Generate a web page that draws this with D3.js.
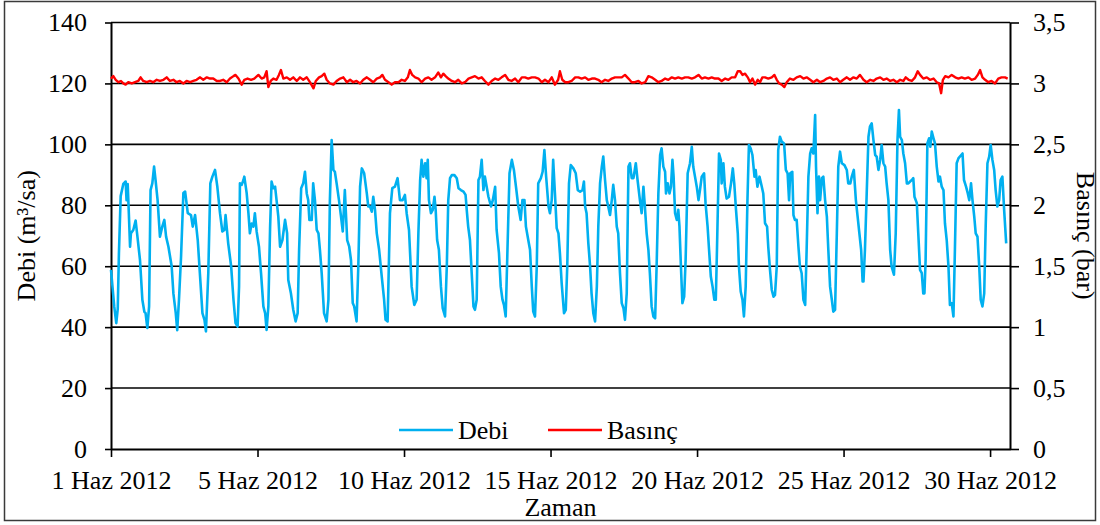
<!DOCTYPE html>
<html><head><meta charset="utf-8">
<script src="https://cdn.jsdelivr.net/npm/d3@7"></script>
<style>
body{margin:0;background:#fff}
text{font-family:"Liberation Serif","Times New Roman",serif;fill:#000}
</style>
</head><body><svg id="c" width="1100" height="525"></svg>
<script>
// time in days from 1 Haz 2012 00:00, Debi in m3/sa
const debi = [
[0.00,58.8],[0.11,46.8],[0.18,41.3],[0.23,46],[0.27,64],[0.33,83],[0.42,87],[0.50,87.8],[0.53,81.7],[0.57,87],[0.61,77],[0.65,66.4],[0.68,70.8],[0.76,71.9],[0.84,75],[0.89,70.8],[0.99,62],
[1.07,49],[1.14,45],[1.18,44.6],[1.24,39.7],[1.30,46.8],[1.35,85],[1.41,87.2],[1.47,92.7],[1.52,88.3],[1.59,81.7],[1.67,69.7],[1.75,73],[1.82,75.2],[1.88,69.7],[1.96,66.4],
[2.07,60],[2.13,51],[2.21,44.6],[2.26,39],[2.32,49],[2.39,63],[2.47,84],[2.53,84.5],[2.62,77.4],[2.73,76.8],[2.79,73],[2.87,76.8],[2.96,68.6],
[3.04,56.6],[3.12,44.6],[3.19,42.4],[3.24,38.6],[3.32,57.7],[3.39,87.2],[3.46,89.4],[3.55,91.6],[3.63,86],[3.72,77.4],[3.80,71.4],[3.87,71.9],[3.91,76.8],
[4.00,67.5],[4.10,60],[4.18,49],[4.25,41.3],[4.32,40.2],[4.37,53.3],[4.40,87.2],[4.46,86.7],[4.52,88.3],[4.55,89.4],[4.63,84],[4.69,77.4],[4.74,70.8],[4.80,74],[4.86,73],[4.91,77.4],[4.97,71.4],
[5.05,66.4],[5.12,57.7],[5.20,46.8],[5.26,44.6],[5.31,39.1],[5.37,46.8],[5.43,73],[5.48,87.8],[5.54,85.6],[5.60,86.1],[5.65,81.7],[5.71,76.3],[5.77,66.4],[5.85,68.6],[5.94,75.2],
[6.01,70.8],[6.05,55.5],[6.14,51.1],[6.22,45.7],[6.30,41.9],[6.37,44.6],[6.42,65.4],[6.49,85.6],[6.56,87.2],[6.62,91],[6.68,83.9],[6.73,81.7],[6.77,75.2],[6.85,75.2],[6.90,87.2],[6.96,81.7],
[7.02,71.9],[7.08,70.8],[7.13,65.4],[7.19,57.7],[7.27,44.6],[7.36,41.9],[7.42,49],[7.47,81.7],[7.53,101.4],[7.59,91.6],[7.64,91],[7.70,87.2],[7.78,81.7],[7.85,76.3],[7.91,71.4],[7.98,85],
[8.06,68.6],[8.13,66.4],[8.19,62],[8.25,47.9],[8.30,46.8],[8.38,41.9],[8.44,60],[8.50,86.1],[8.56,92.1],[8.64,90.5],[8.73,83.9],[8.78,79.6],[8.84,79.6],[8.90,77.9],[8.95,82.8],
[9.01,78.5],[9.07,70.8],[9.15,65.4],[9.24,56.6],[9.32,49],[9.37,42.4],[9.44,41.9],[9.52,77.4],[9.60,85.6],[9.69,86.1],[9.78,88.9],[9.86,81.7],[9.95,81.7],
[10.03,83.4],[10.09,77.4],[10.17,71.9],[10.26,53.3],[10.35,47.3],[10.43,49],[10.49,70.8],[10.55,88.3],[10.60,94.9],[10.66,89.4],[10.72,93.8],[10.77,88.9],[10.81,94.9],[10.85,81.7],[10.92,77.4],[10.98,78.5],
[11.04,82.8],[11.08,78.5],[11.13,68.6],[11.19,65.4],[11.26,53.3],[11.32,46.2],[11.40,43.5],[11.46,59.9],[11.51,81.7],[11.57,88.9],[11.63,89.9],[11.72,89.9],[11.80,88.9],[11.86,85.6],[11.94,85],
[12.03,84.5],[12.10,83.4],[12.14,78.5],[12.19,73],[12.25,68.6],[12.31,57.7],[12.37,46.8],[12.42,45.7],[12.48,49],[12.54,88.3],[12.59,89.4],[12.65,94.9],[12.71,85],[12.76,89.4],[12.82,86.1],[12.88,82.8],[12.97,79.6],
[13.03,81.7],[13.11,86.1],[13.16,71.9],[13.24,64.3],[13.30,53.3],[13.36,49],[13.41,47.3],[13.47,43.5],[13.53,65.4],[13.60,90.5],[13.68,94.9],[13.75,91.6],[13.82,86.1],[13.90,79.6],[13.98,75.2],
[14.04,81.7],[14.11,81.7],[14.16,73],[14.24,68.6],[14.30,65.4],[14.36,53.3],[14.41,45.1],[14.47,43.5],[14.53,59.9],[14.58,87.2],[14.67,88.9],[14.73,91],[14.79,98.1],[14.85,89.4],[14.93,79.6],[14.98,77.4],
[15.04,81.7],[15.09,94.9],[15.15,83.9],[15.21,72.5],[15.27,70.8],[15.32,64.3],[15.38,54.4],[15.46,44.6],[15.52,45.7],[15.57,59.9],[15.63,87.2],[15.69,93.2],[15.78,92.1],[15.86,90.5],[15.93,85],
[16.01,84.5],[16.09,85],[16.14,87.8],[16.18,79.6],[16.23,77.4],[16.29,67.5],[16.35,59.9],[16.40,51.1],[16.46,44.6],[16.52,41.9],[16.58,53.3],[16.63,73],[16.69,87.2],[16.75,92.7],[16.80,96],[16.86,88.3],[16.92,81.7],[16.97,79.6],
[17.03,76.8],[17.09,81.7],[17.14,86.7],[17.20,81.7],[17.26,73],[17.31,70.8],[17.37,57.7],[17.43,47.9],[17.49,46.2],[17.54,42.4],[17.60,51.1],[17.66,92.7],[17.71,93.8],[17.77,88.9],[17.83,88.9],[17.91,93.8],[17.97,88.3],
[18.05,81.7],[18.11,77.4],[18.17,86.1],[18.22,79.6],[18.28,70.8],[18.34,65.4],[18.39,57.7],[18.45,46.8],[18.51,43.5],[18.57,42.9],[18.62,59.9],[18.68,83.9],[18.74,96.5],[18.79,98.7],[18.85,92.7],[18.91,91],[18.94,83.9],
[19.00,87.2],[19.06,83.9],[19.11,86.1],[19.16,94.9],[19.20,89.4],[19.25,77.4],[19.31,75.2],[19.36,78.5],[19.40,73],[19.45,59.9],[19.50,47.9],[19.56,50],[19.61,62],[19.68,90.5],[19.76,93.8],[19.82,99.2],[19.87,92.7],[19.93,89.4],[19.99,86.1],
[20.05,81.7],[20.10,85],[20.16,89.4],[20.24,90.5],[20.29,80.7],[20.36,73],[20.41,65.4],[20.47,56.6],[20.53,53.3],[20.59,49],[20.64,49],[20.68,65.4],[20.75,97],[20.81,94.9],[20.84,87.2],[20.90,93.8],[20.95,86.1],
[21.01,82.2],[21.09,82.8],[21.16,87.2],[21.22,92.1],[21.27,87.2],[21.33,78.5],[21.39,70.8],[21.43,59.9],[21.49,51.7],[21.55,49],[21.60,43.5],[21.66,53.3],[21.72,81.7],[21.77,99.8],[21.83,98.7],[21.89,96.5],[21.96,89.4],
[22.00,91.6],[22.06,86.1],[22.13,89.4],[22.21,86.1],[22.26,83.9],[22.32,74.1],[22.39,73],[22.43,66.4],[22.49,58.8],[22.55,52.2],[22.61,50],[22.66,50.6],[22.72,59.9],[22.77,98.1],[22.83,102.5],[22.89,100.9],[22.97,100.3],
[23.03,91.6],[23.09,90.5],[23.14,81.7],[23.18,90.5],[23.25,91],[23.29,76.8],[23.34,75.2],[23.40,75.2],[23.46,66.4],[23.51,59.9],[23.57,57.7],[23.63,49],[23.69,47.3],[23.74,65.4],[23.80,89.4],[23.86,97],[23.91,98.7],[23.97,97],
[24.03,109.6],[24.06,92.7],[24.11,77.4],[24.16,89.4],[24.20,81.7],[24.26,88.9],[24.31,89.4],[24.37,81.7],[24.43,76.3],[24.48,65.4],[24.54,53.3],[24.60,49],[24.65,45.1],[24.71,45.7],[24.77,70.8],[24.82,92.7],[24.88,97.6],[24.94,93.8],
[25.03,93.2],[25.11,91.6],[25.16,87.2],[25.23,87.2],[25.28,89.4],[25.35,91.6],[25.42,81.7],[25.48,76.3],[25.54,70.8],[25.60,65.4],[25.65,55],[25.68,55],[25.73,65.4],[25.79,83.9],[25.85,102.5],[25.90,105.8],[25.96,106.9],
[26.02,101.4],[26.08,96.5],[26.13,96],[26.19,91.6],[26.25,94.9],[26.30,99.8],[26.36,93.8],[26.42,92.7],[26.47,87.2],[26.53,81.7],[26.59,65.4],[26.64,59.9],[26.72,57.2],[26.78,70.8],[26.84,101.4],[26.89,111.3],[26.93,102.5],[26.99,101.4],
[27.04,97],[27.10,93.8],[27.16,87.2],[27.21,87.2],[27.27,87.8],[27.33,88.3],[27.38,88.9],[27.42,82.8],[27.50,80.7],[27.55,70.8],[27.61,58.8],[27.67,57.7],[27.72,51.1],[27.76,51.1],[27.80,62],[27.86,100.3],[27.92,102],[27.96,99.2],
[28.01,104.2],[28.07,102],[28.12,100.3],[28.18,92.7],[28.24,87.8],[28.29,89.4],[28.35,86.1],[28.41,85],[28.46,74.1],[28.52,68.6],[28.58,59.9],[28.63,47.3],[28.69,47.9],[28.75,43.5],[28.80,65.4],[28.86,93.8],[28.92,95.4],[28.97,96],
[29.06,97],[29.11,88.3],[29.18,86.1],[29.24,83.9],[29.29,81.7],[29.35,87.2],[29.40,81.7],[29.46,76.3],[29.51,70.8],[29.57,69.7],[29.63,59.9],[29.68,49],[29.74,46.8],[29.80,51.1],[29.85,73],[29.91,93.8],[29.97,96],
[30.02,99.8],[30.08,94.9],[30.14,91.6],[30.19,85],[30.25,79.6],[30.31,81.7],[30.36,88.3],[30.42,89.4],[30.48,78.5],[30.55,67.5]
];
// time in days, Basınç in bar
const basinc = [
[0.00,3.04],[0.08,3.06],[0.16,3.03],[0.25,3.01],[0.34,3.02],[0.42,3.00],[0.50,2.99],[0.59,3.01],[0.71,3.00],[0.82,3.01],[0.93,3.02],[1.01,3.05],[1.10,3.02],[1.22,3.01],[1.33,3.02],[1.44,3.01],[1.56,3.03],[1.67,3.02],[1.79,3.03],[1.90,3.05],
[2.01,3.02],[2.13,3.03],[2.24,3.01],[2.35,3.02],[2.47,3.00],[2.58,3.02],[2.70,3.01],[2.81,3.02],[2.92,3.03],[3.04,3.05],[3.15,3.03],[3.27,3.05],[3.38,3.04],[3.49,3.04],[3.61,3.02],[3.72,3.02],[3.83,3.03],[3.95,3.01],
[4.06,3.04],[4.18,3.06],[4.25,3.07],[4.35,3.04],[4.46,2.99],[4.55,3.03],[4.66,3.04],[4.78,3.03],[4.89,3.04],[5.03,3.07],[5.14,3.04],[5.23,3.05],[5.31,3.10],[5.37,2.97],[5.45,3.02],[5.54,3.04],[5.65,3.03],[5.73,3.07],[5.80,3.11],[5.88,3.04],
[6.00,3.05],[6.11,3.03],[6.22,3.05],[6.34,3.02],[6.45,3.05],[6.56,3.03],[6.68,3.05],[6.79,3.01],[6.91,2.96],[6.99,3.02],[7.10,3.05],[7.19,3.06],[7.28,3.08],[7.36,3.03],[7.47,3.00],[7.59,2.99],[7.70,3.02],[7.82,3.04],[7.93,3.05],
[8.05,3.01],[8.16,3.03],[8.27,3.01],[8.38,3.02],[8.50,3.00],[8.61,3.03],[8.73,3.05],[8.84,3.03],[8.95,3.01],[9.07,3.04],[9.18,3.05],[9.26,3.07],[9.35,3.03],[9.47,3.01],[9.58,2.99],[9.69,3.01],[9.81,3.01],[9.92,3.03],
[10.03,3.02],[10.13,3.05],[10.20,3.11],[10.28,3.07],[10.38,3.05],[10.49,3.04],[10.60,3.01],[10.72,3.04],[10.83,3.05],[10.94,3.03],[11.06,3.05],[11.17,3.09],[11.26,3.05],[11.34,3.08],[11.42,3.06],[11.51,3.04],[11.63,3.02],[11.74,3.01],[11.85,3.03],[11.97,3.00],
[12.08,3.01],[12.20,3.04],[12.31,3.05],[12.42,3.06],[12.54,3.04],[12.65,3.05],[12.76,3.02],[12.88,2.99],[12.99,3.02],[13.11,3.04],[13.22,3.03],[13.33,3.05],[13.45,3.07],[13.56,3.03],[13.67,3.02],[13.79,3.04],[13.90,3.01],
[14.02,3.05],[14.13,3.05],[14.24,3.04],[14.36,3.05],[14.47,3.05],[14.59,3.04],[14.70,3.01],[14.81,3.03],[14.93,3.01],[15.04,3.05],[15.15,2.99],[15.26,3.03],[15.32,3.10],[15.40,3.03],[15.50,3.01],[15.61,3.01],[15.72,3.02],[15.84,3.05],[15.95,3.05],
[16.06,3.04],[16.18,3.05],[16.29,3.03],[16.41,3.04],[16.52,3.04],[16.63,3.03],[16.74,3.01],[16.86,3.03],[16.97,3.02],[17.09,3.04],[17.20,3.05],[17.32,3.05],[17.43,3.05],[17.54,3.07],[17.66,3.04],[17.77,3.01],[17.88,3.01],
[18.00,3.02],[18.11,3.00],[18.23,3.01],[18.34,3.06],[18.45,3.05],[18.57,3.03],[18.68,3.01],[18.79,3.02],[18.91,3.04],[19.02,3.03],[19.14,3.05],[19.25,3.04],[19.36,3.05],[19.48,3.04],[19.59,3.05],[19.70,3.05],[19.82,3.04],[19.93,3.05],
[20.05,3.07],[20.16,3.04],[20.27,3.05],[20.39,3.04],[20.50,3.05],[20.61,3.04],[20.73,3.04],[20.84,3.02],[20.96,3.04],[21.07,3.03],[21.18,3.05],[21.30,3.05],[21.39,3.10],[21.47,3.10],[21.55,3.07],[21.64,3.08],[21.73,3.05],[21.81,3.01],[21.89,3.04],[21.98,2.99],
[22.07,3.03],[22.15,3.01],[22.23,3.05],[22.32,3.05],[22.43,3.04],[22.55,3.05],[22.64,3.07],[22.72,3.03],[22.80,3.00],[22.89,2.99],[22.98,2.97],[23.06,3.01],[23.17,3.04],[23.29,3.03],[23.40,3.05],[23.52,3.06],[23.63,3.04],[23.74,3.05],[23.86,3.03],[23.97,3.01],
[24.09,3.03],[24.20,3.01],[24.31,3.02],[24.43,3.04],[24.54,3.05],[24.65,3.03],[24.77,3.04],[24.88,3.01],[24.99,3.03],[25.11,3.05],[25.22,3.03],[25.34,3.05],[25.45,3.04],[25.56,3.07],[25.68,3.03],[25.79,3.01],[25.91,3.03],
[26.02,3.02],[26.13,3.04],[26.25,3.05],[26.36,3.03],[26.47,3.04],[26.59,3.02],[26.70,3.03],[26.82,3.01],[26.93,3.03],[27.04,3.02],[27.12,3.05],[27.22,3.03],[27.33,3.02],[27.44,3.05],[27.53,3.10],[27.61,3.07],[27.72,3.04],[27.84,3.05],[27.95,3.03],
[28.07,3.04],[28.18,3.01],[28.26,3.00],[28.33,2.92],[28.39,3.03],[28.47,3.06],[28.58,3.05],[28.69,3.07],[28.81,3.05],[28.92,3.04],[29.03,3.05],[29.14,3.04],[29.26,3.05],[29.37,3.03],[29.49,3.04],[29.58,3.07],[29.66,3.11],[29.74,3.05],[29.83,3.03],[29.94,3.01],
[30.05,3.02],[30.17,3.00],[30.28,3.04],[30.39,3.05],[30.51,3.05],[30.60,3.04]
];
const leftTicks = [0,20,40,60,80,100,120,140];
const rightTicks = [0,0.5,1,1.5,2,2.5,3,3.5];
const xTickDays = [0,5,10,15,20,25,30];
const xTickLabels = ["1 Haz 2012","5 Haz 2012","10 Haz 2012","15 Haz 2012","20 Haz 2012","25 Haz 2012","30 Haz 2012"];
const xDomain = [0,30.68];
const seriesNames = ["Debi","Basınç"];
const seriesColors = ["#00B0F0","#FF0000"];
const leftTitle = "Debi (m³/sa)";
const rightTitle = "Basınç (bar)";
const xTitle = "Zaman";

const svg = d3.select("#c");
const L=111, R=1010, T=22.5, B=449, FS=26;
const x = d3.scaleLinear().domain(xDomain).range([L,R]);
const yL = d3.scaleLinear().domain([0,140]).range([B,T]);
const yR = d3.scaleLinear().domain([0,3.5]).range([B,T]);

svg.append("rect").attr("x",4.5).attr("y",1.5).attr("width",1091).attr("height",519)
  .attr("fill","none").attr("stroke","#3a3a3a").attr("stroke-width",1.5);

// gridlines
svg.append("g").selectAll("line").data(leftTicks.filter(d=>d>0)).join("line")
  .attr("x1",L).attr("x2",R).attr("y1",d=>yL(d)).attr("y2",d=>yL(d))
  .attr("stroke","#000").attr("stroke-width",1.6);

function styleAxis(g){
  g.select(".domain").attr("stroke","#000").attr("stroke-width",2);
  g.selectAll(".tick line").attr("stroke","#000").attr("stroke-width",1.6);
  g.selectAll("text").attr("font-size",FS).attr("font-family",'"Liberation Serif","Times New Roman",serif').attr("fill","#000");
}
const gl = svg.append("g").attr("transform",`translate(${L},0)`)
  .call(d3.axisLeft(yL).tickValues(leftTicks).tickSizeInner(6).tickSizeOuter(0).tickPadding(18).tickFormat(d3.format("d")));
styleAxis(gl);
const gr = svg.append("g").attr("transform",`translate(${R},0)`)
  .call(d3.axisRight(yR).tickValues(rightTicks).tickSizeInner(9).tickSizeOuter(0).tickPadding(14).tickFormat(d=>String(d).replace(".",",")));
styleAxis(gr);
const gb = svg.append("g").attr("transform",`translate(0,${B})`)
  .call(d3.axisBottom(x).tickValues(xTickDays).tickSizeInner(8).tickSizeOuter(0).tickPadding(14).tickFormat((d,i)=>xTickLabels[i]));
styleAxis(gb);

// lines
const lineL = d3.line().x(d=>x(d[0])).y(d=>yL(d[1]));
const lineR = d3.line().x(d=>x(d[0])).y(d=>yR(d[1]));
svg.append("path").datum(debi).attr("d",lineL).attr("fill","none")
  .attr("stroke",seriesColors[0]).attr("stroke-width",2.6).attr("stroke-linejoin","round");
svg.append("path").datum(basinc).attr("d",lineR).attr("fill","none")
  .attr("stroke",seriesColors[1]).attr("stroke-width",2.4).attr("stroke-linejoin","round");

// titles
svg.append("text").attr("transform",`translate(35,${(T+B)/2}) rotate(-90)`).attr("text-anchor","middle")
  .attr("font-size",FS).text(leftTitle);
svg.append("text").attr("transform",`translate(1077,${(T+B)/2}) rotate(90)`).attr("text-anchor","middle")
  .attr("font-size",FS).text(rightTitle);
svg.append("text").attr("x",(L+R)/2).attr("y",516).attr("text-anchor","middle").attr("font-size",FS).text(xTitle);

// legend
const legX = [399,548];
const lg = svg.append("g").selectAll("g").data(seriesNames).join("g")
  .attr("transform",(d,i)=>`translate(${legX[i]},430)`);
lg.append("line").attr("x1",0).attr("x2",54).attr("y1",0).attr("y2",0)
  .attr("stroke",(d,i)=>seriesColors[i]).attr("stroke-width",2.6);
lg.append("text").attr("x",59).attr("y",0).attr("dy","0.33em").attr("font-size",FS).text(d=>d);
</script>
</body></html>
